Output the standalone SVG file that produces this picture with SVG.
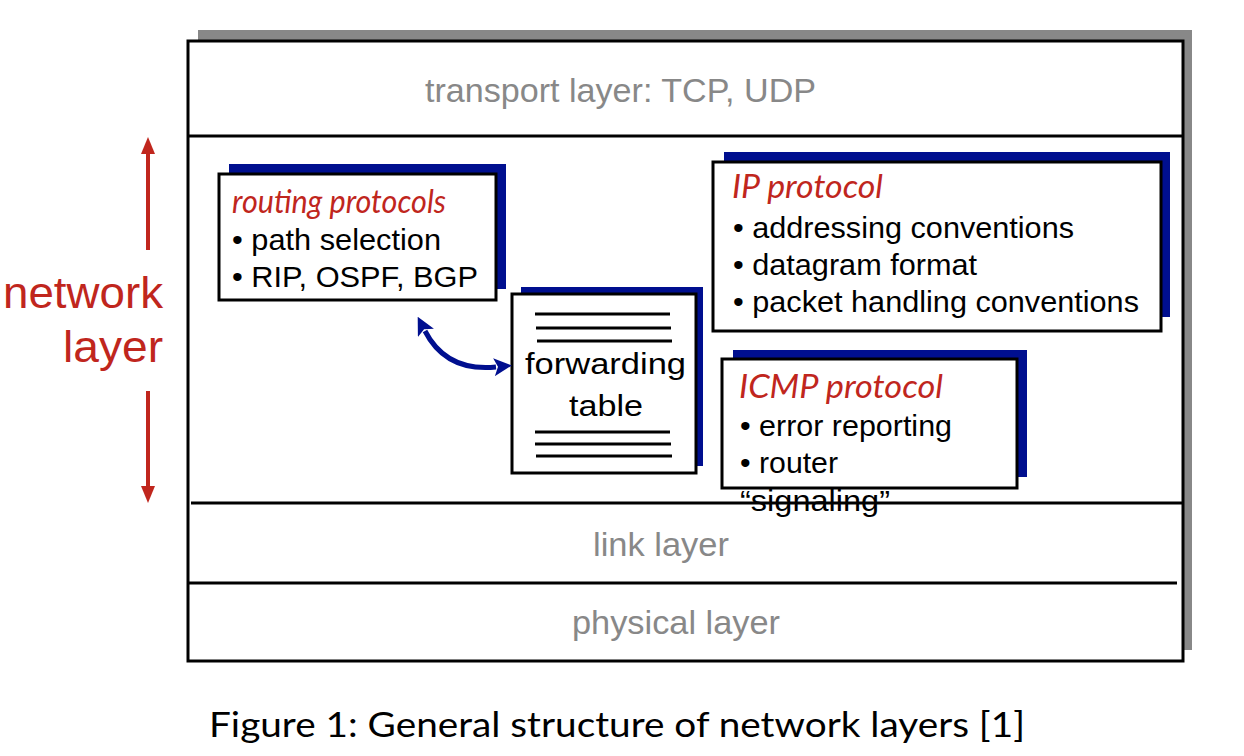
<svg xmlns="http://www.w3.org/2000/svg" width="1244" height="756" viewBox="0 0 1244 756">
<style>
.box{fill:#fff;stroke:#000;stroke-width:3}
.shadow{fill:#000f8f}
.rule{stroke:#000;stroke-width:3;fill:none}
.tline{stroke:#000;stroke-width:3}
.gray{font-family:"Liberation Sans",Arial,sans-serif;fill:#888;font-size:34px}
.body{font-family:"Liberation Sans",Arial,sans-serif;fill:#000;font-size:29px}
.title{font-family:Lato,"Open Sans",sans-serif;font-style:italic;fill:#c0261d;font-size:33px}
.red{font-family:"Liberation Sans",Arial,sans-serif;fill:#c0261d;font-size:44px}
.cap{font-family:Lato,"Open Sans",sans-serif;fill:#000;font-size:35px}
</style>
<defs>
<marker id="bluehead" viewBox="0 0 18 18" refX="2" refY="9" markerWidth="18" markerHeight="18" markerUnits="userSpaceOnUse" orient="auto-start-reverse">
<path d="M0,0 L18,9 L0,18 L4,9 z" fill="#000f8f"/>
</marker>
</defs>
<rect width="1244" height="756" fill="#fff"/>

<g id="layer-stack">
<rect x="198" y="30" width="994" height="620" fill="#888"/>
<rect x="188" y="41" width="995" height="620" class="box"/>
<line x1="188" y1="136" x2="1183" y2="136" class="rule"/>
<line x1="191" y1="503" x2="1183" y2="503" class="rule"/>
<line x1="188" y1="583" x2="1177" y2="583" class="rule"/>
<text x="425" y="102" class="gray" textLength="391" lengthAdjust="spacingAndGlyphs">transport layer: TCP, UDP</text>
<text x="593" y="556" class="gray" font-size="33" textLength="136" lengthAdjust="spacingAndGlyphs">link layer</text>
<text x="572" y="634" class="gray" font-size="33" textLength="208" lengthAdjust="spacingAndGlyphs">physical layer</text>
</g>

<g id="network-layer-label">
<line x1="148" y1="250" x2="148" y2="150" stroke="#c0261d" stroke-width="4"/>
<polygon points="148,137 141,154 155,154" fill="#c0261d"/>
<line x1="148" y1="391" x2="148" y2="490" stroke="#c0261d" stroke-width="4"/>
<polygon points="148,503 141,486 155,486" fill="#c0261d"/>
<text x="3" y="308" class="red" textLength="160" lengthAdjust="spacingAndGlyphs">network</text>
<text x="63" y="362" class="red" textLength="100" lengthAdjust="spacingAndGlyphs">layer</text>
</g>

<g id="routing-protocols">
<rect x="229" y="164" width="277" height="125" class="shadow"/>
<rect x="219" y="174" width="277" height="126" class="box"/>
<text x="232" y="213" class="title" textLength="214" lengthAdjust="spacingAndGlyphs">routing protocols</text>
<text x="232" y="250" class="body" textLength="209" lengthAdjust="spacingAndGlyphs">• path selection</text>
<text x="232" y="287" class="body" textLength="246" lengthAdjust="spacingAndGlyphs">• RIP, OSPF, BGP</text>
</g>

<g id="forwarding-table">
<rect x="521" y="287" width="182" height="179" class="shadow"/>
<rect x="512" y="294" width="184" height="179" class="box"/>
<line x1="535" y1="314" x2="670" y2="314" class="tline"/>
<line x1="536" y1="328" x2="671" y2="328" class="tline"/>
<line x1="537" y1="341" x2="672" y2="341" class="tline"/>
<text x="525" y="374" class="body" font-size="33" textLength="161" lengthAdjust="spacingAndGlyphs">forwarding</text>
<text x="569" y="416" class="body" font-size="33" textLength="74" lengthAdjust="spacingAndGlyphs">table</text>
<line x1="535" y1="432" x2="670" y2="432" class="tline"/>
<line x1="535" y1="444" x2="671" y2="444" class="tline"/>
<line x1="536" y1="456" x2="672" y2="456" class="tline"/>
</g>

<g id="ip-protocol">
<rect x="724" y="152" width="446" height="165" class="shadow"/>
<rect x="713" y="162" width="448" height="169" class="box"/>
<text x="732" y="198" class="title" font-size="35" textLength="151" lengthAdjust="spacingAndGlyphs">IP protocol</text>
<text x="733" y="238" class="body" textLength="341" lengthAdjust="spacingAndGlyphs">• addressing conventions</text>
<text x="733" y="275" class="body" textLength="244" lengthAdjust="spacingAndGlyphs">• datagram format</text>
<text x="733" y="312" class="body" textLength="406" lengthAdjust="spacingAndGlyphs">• packet handling conventions</text>
</g>

<g id="icmp-protocol">
<rect x="733" y="350" width="294" height="127" class="shadow"/>
<rect x="722" y="359" width="295" height="129" class="box"/>
<text x="739" y="398" class="title" font-size="35" textLength="204" lengthAdjust="spacingAndGlyphs">ICMP protocol</text>
<text x="740" y="436" class="body" textLength="212" lengthAdjust="spacingAndGlyphs">• error reporting</text>
<text x="740" y="473" class="body" textLength="98" lengthAdjust="spacingAndGlyphs">• router</text>
<text x="740" y="511" class="body" textLength="150" lengthAdjust="spacingAndGlyphs">“signaling”</text>
</g>

<g id="connectors">
<path d="M425,331 Q446,372 496,367" fill="none" stroke="#000f8f" stroke-width="5" marker-start="url(#bluehead)" marker-end="url(#bluehead)"/>
</g>

<g id="caption">
<text x="209" y="737" class="cap" textLength="816" lengthAdjust="spacingAndGlyphs">Figure 1: General structure of network layers [1]</text>
</g>
</svg>
